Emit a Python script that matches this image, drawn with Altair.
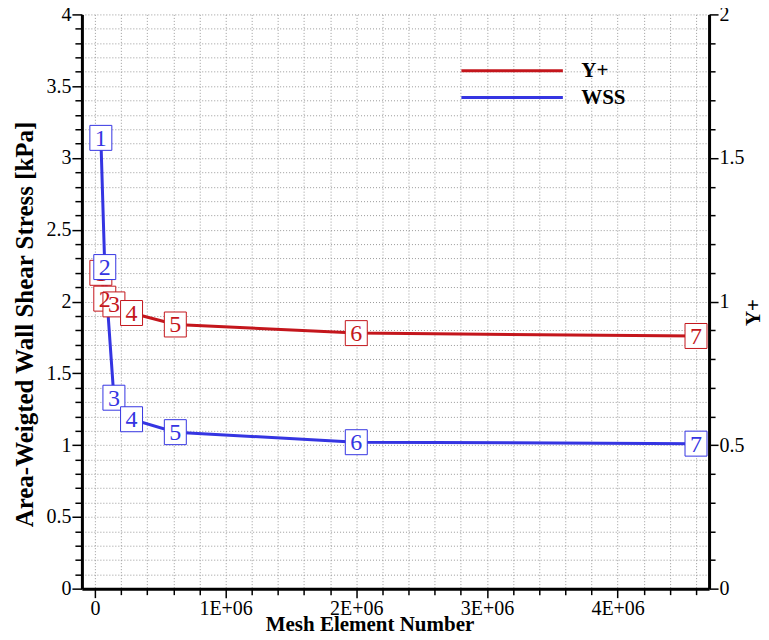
import altair as alt
import pandas as pd

# ---- data ----
mesh = [45000, 75000, 145000, 280000, 615000, 2000000, 4600000]
wss = [3.14, 2.24, 1.33, 1.18, 1.09, 1.02, 1.01]
yplus = [1.10, 1.01, 0.99, 0.96, 0.92, 0.89, 0.88]
point_labels = ["1", "2", "3", "4", "5", "6", "7"]
legend_names = ["Y+", "WSS"]
legend_rows = [0, 1]

x_ticks = [i * 200000 for i in range(24)]
left_ticks = [round(i * 0.1, 1) for i in range(41)]
right_ticks = [round(i * 0.1, 1) for i in range(21)]

RED = "#c4161c"
BLUE = "#3535e2"
SERIF = "Liberation Serif"

df = pd.DataFrame({"mesh": mesh, "wss": wss, "yplus": yplus, "lab": point_labels})
leg = pd.DataFrame({"series": legend_names, "row": legend_rows})

major_test = "round(datum.value*10) % 5 == 0"

x_enc = alt.X(
    "mesh:Q",
    scale=alt.Scale(domain=[-100000, 4700000], nice=False, zero=False),
    axis=alt.Axis(
        values=x_ticks,
        labelExpr="datum.value == 0 ? '0' : (datum.value % 1000000 == 0 ? (datum.value/1000000) + 'E+06' : '')",
        title="Mesh Element Number",
        titleFont=SERIF, titleFontSize=21, titleFontWeight="bold", titleColor="black",
        titleX=288, titleY=36, titleBaseline="middle", titleAlign="center",
        labelFont=SERIF, labelFontSize=20, labelColor="black", labelPadding=1,
        domainColor="black", domainWidth=3,
        tickColor="black", tickWidth=1.5,
        tickSize={"condition": {"test": "datum.value % 1000000 == 0", "value": 9}, "value": 6},
        grid=True, gridColor="#9a9a9a", gridDash=[1, 2], gridWidth=1,
    ),
)

left_axis = alt.Axis(
    orient="left", values=left_ticks,
    labelExpr=major_test + " ? '' + (round(datum.value*10)/10) : ''",
    title="Area-Weigted Wall Shear Stress [kPa]",
    titleFont=SERIF, titleFontSize=25, titleFontWeight="bold", titleColor="black",
    titleX=-57, titleY=310, titleBaseline="middle", titleAlign="center", titleAngle=270,
    labelFont=SERIF, labelFontSize=20, labelColor="black", labelPadding=1,
    domainColor="black", domainWidth=3,
    tickColor="black", tickWidth=1.5,
    tickSize={"condition": {"test": major_test, "value": 10}, "value": 7},
    grid=True, gridColor="#9a9a9a", gridDash=[1, 2], gridWidth=1,
)

right_axis = alt.Axis(
    orient="right", values=right_ticks,
    labelExpr=major_test + " ? '' + (round(datum.value*10)/10) : ''",
    title="Y+",
    titleFont=SERIF, titleFontSize=21, titleFontWeight="bold", titleColor="black",
    titleX=44, titleY=298, titleBaseline="middle", titleAlign="center", titleAngle=270,
    labelFont=SERIF, labelFontSize=20, labelColor="black", labelPadding=1,
    domainColor="black", domainWidth=3,
    tickColor="black", tickWidth=1.5,
    tickSize={"condition": {"test": major_test, "value": 9}, "value": 6},
    grid=False,
)

def y_wss(axis=None):
    return alt.Y("wss:Q", scale=alt.Scale(domain=[0, 4], nice=False), axis=axis)

def y_yp(axis=None):
    return alt.Y("yplus:Q", scale=alt.Scale(domain=[0, 2], nice=False), axis=axis)

BOX = "M-0.88,-1 L0.88,-1 L0.88,1 L-0.88,1 Z"

base = alt.Chart(df)

yp_line = base.mark_line(color=RED, strokeWidth=3).encode(x=x_enc, y=y_yp(right_axis))
wss_line = base.mark_line(color=BLUE, strokeWidth=3).encode(x=x_enc, y=y_wss(left_axis))

yp_box = base.mark_point(shape=BOX, size=625, filled=True, fill="white", stroke=RED,
                         strokeWidth=1, opacity=1).encode(x=x_enc, y=y_yp())
yp_text = base.mark_text(font=SERIF, fontSize=24, color=RED, baseline="alphabetic", dy=8).encode(
    x=x_enc, y=y_yp(), text="lab:N")
wss_box = base.mark_point(shape=BOX, size=625, filled=True, fill="white", stroke=BLUE,
                          strokeWidth=1, opacity=1).encode(x=x_enc, y=y_wss())
wss_text = base.mark_text(font=SERIF, fontSize=24, color=BLUE, baseline="alphabetic", dy=8).encode(
    x=x_enc, y=y_wss(), text="lab:N")

leg_y = alt.Y("row:Q", scale=alt.Scale(domain=[0, 1], range=[56.5, 83.3], nice=False, zero=False), axis=None)
leg_color = alt.Color("series:N", scale=alt.Scale(domain=legend_names, range=[RED, BLUE]), legend=None)
leg_rule = alt.Chart(leg).mark_rule(strokeWidth=3).encode(
    x=alt.value(380), x2=alt.value(481.6), y=leg_y, color=leg_color)
leg_text = alt.Chart(leg).mark_text(font=SERIF, fontSize=21, fontWeight="bold", color="black",
                                    align="left", baseline="middle").encode(
    x=alt.value(500), y=leg_y, text="series:N")

chart = alt.layer(
    yp_line, wss_line, yp_box, yp_text, wss_box, wss_text, leg_rule, leg_text
).resolve_scale(y="independent").properties(
    width=628, height=575,
    autosize=alt.AutoSizeParams(type="none"),
    padding={"left": 74, "top": 6, "right": 52, "bottom": 46},
    background="white",
).configure_view(stroke=None)

chart.save("out.html", embed_options={"renderer": "svg", "actions": False})
